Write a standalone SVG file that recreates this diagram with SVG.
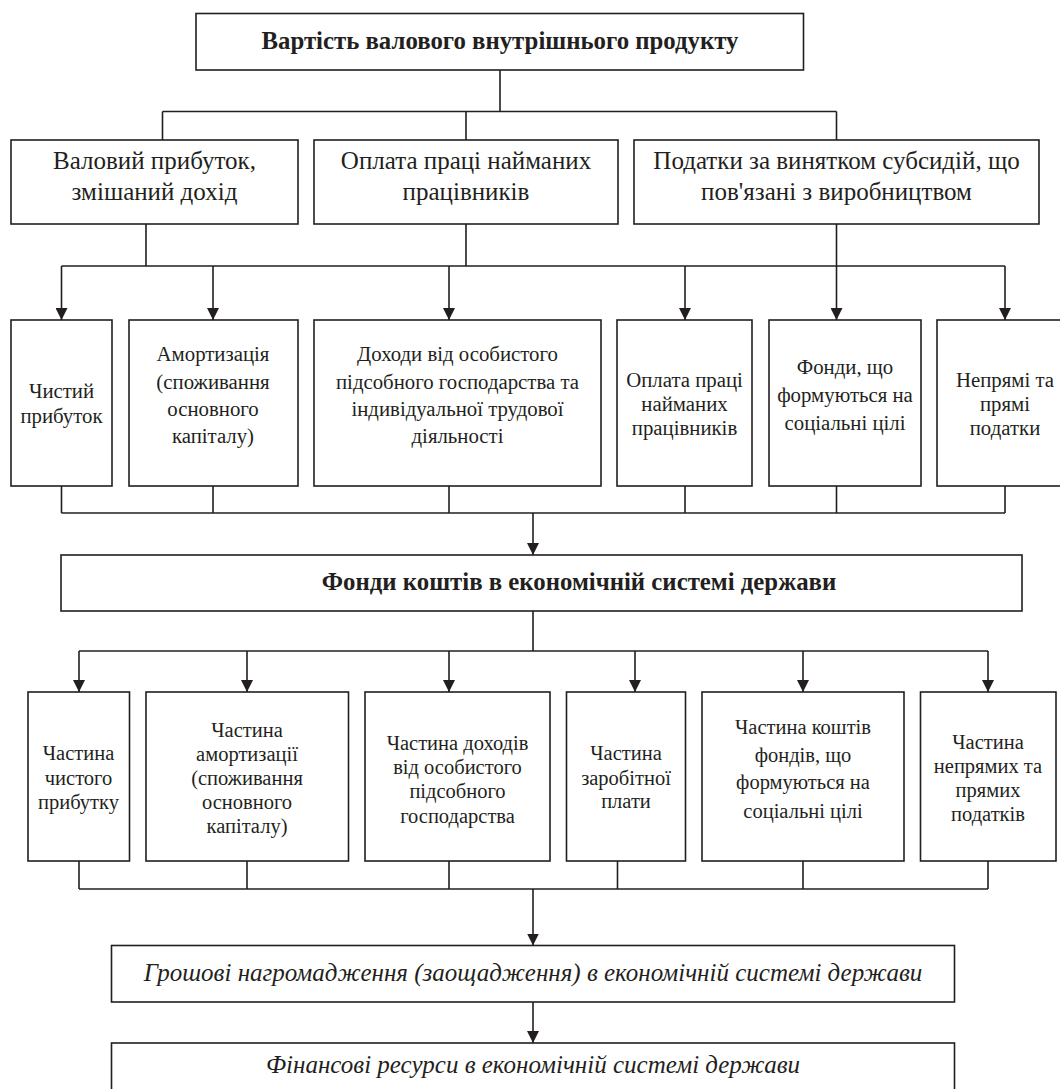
<svg xmlns="http://www.w3.org/2000/svg" width="1060" height="1089" viewBox="0 0 1060 1089">
<style>
rect{fill:#fff;stroke:#231f20;stroke-width:1.6}
text{font-family:"Liberation Serif","Times New Roman",serif;fill:#231f20;text-anchor:middle}
.t{font-size:24.8px;font-weight:bold}
.m{font-size:25px}
.s{font-size:20.8px}
.r{font-size:20.5px}
.i{font-size:25px;font-style:italic}
.c{fill:none;stroke:#231f20;stroke-width:1.6}
</style>
<defs>
<marker id="ar" viewBox="0 0 12 12" refX="12" refY="6" markerWidth="12" markerHeight="12" markerUnits="userSpaceOnUse" orient="auto">
<path d="M0,0 L12,6 L0,12 Z" fill="#231f20"/>
</marker>
</defs>
<rect x="0" y="0" width="1060" height="1089" style="stroke:none"/>
<g id="connectors">
<path class="c" d="M500,70 V111.5 M162.5,111.5 H836.5 M162.5,111.5 V140 M466,111.5 V140 M836.5,111.5 V140"/>
<path class="c" d="M146,224 V266 M466,224 V266 M836.5,224 V266 M61.5,266 H1005"/>
<path class="c" marker-end="url(#ar)" d="M61.5,266 V320"/>
<path class="c" marker-end="url(#ar)" d="M213,266 V320"/>
<path class="c" marker-end="url(#ar)" d="M449,266 V320"/>
<path class="c" marker-end="url(#ar)" d="M685,266 V320"/>
<path class="c" marker-end="url(#ar)" d="M836.5,266 V320"/>
<path class="c" marker-end="url(#ar)" d="M1005,266 V320"/>
<path class="c" d="M61.5,486 V513 M213,486 V513 M449,486 V513 M685,486 V513 M836.5,486 V513 M1005,486 V513 M61.5,513 H1005"/>
<path class="c" marker-end="url(#ar)" d="M533,513 V555"/>
<path class="c" d="M533,611 V651 M79,651 H988"/>
<path class="c" marker-end="url(#ar)" d="M79,651 V692"/>
<path class="c" marker-end="url(#ar)" d="M247,651 V692"/>
<path class="c" marker-end="url(#ar)" d="M449,651 V692"/>
<path class="c" marker-end="url(#ar)" d="M635,651 V692"/>
<path class="c" marker-end="url(#ar)" d="M803,651 V692"/>
<path class="c" marker-end="url(#ar)" d="M988,651 V692"/>
<path class="c" d="M79,861 V889 M247,861 V889 M449,861 V889 M617.5,861 V889 M803,861 V889 M988,861 V889 M79,889 H988"/>
<path class="c" marker-end="url(#ar)" d="M533,889 V945.5"/>
<path class="c" marker-end="url(#ar)" d="M533,1002 V1043"/>
</g>
<g id="n-gdp"><rect x="196" y="13.5" width="607.5" height="56.5"/><text class="t" x="500" y="49">Вартість валового внутрішнього продукту</text></g>
<g id="n-gross"><rect x="11" y="140" width="287" height="84"/><text class="m" x="154.5" y="169">Валовий прибуток,</text><text class="m" x="154.5" y="199.5">змішаний дохід</text></g>
<g id="n-pay"><rect x="314" y="140" width="304" height="84"/><text class="m" x="466" y="169">Оплата праці найманих</text><text class="m" x="466" y="199.5">працівників</text></g>
<g id="n-tax"><rect x="634" y="140" width="405" height="84"/><text class="m" x="836.5" y="169">Податки за винятком субсидій, що</text><text class="m" x="836.5" y="199.5">пов'язані з виробництвом</text></g>
<g id="n-net"><rect x="11" y="320" width="101" height="166"/><text class="s" x="61.5" y="398">Чистий</text><text class="s" x="61.5" y="423">прибуток</text></g>
<g id="n-amort"><rect x="129" y="320" width="169" height="166"/><text class="s" x="213" y="361">Амортизація</text><text class="s" x="213" y="388.5">(споживання</text><text class="s" x="213" y="415.5">основного</text><text class="s" x="213" y="443">капіталу)</text></g>
<g id="n-income"><rect x="314" y="320" width="287" height="166"/><text class="s" x="457.5" y="361">Доходи від особистого</text><text class="s" x="457.5" y="388.5">підсобного господарства та</text><text class="s" x="457.5" y="415.5">індивідуальної трудової</text><text class="s" x="457.5" y="443">діяльності</text></g>
<g id="n-wages"><rect x="617" y="320" width="135" height="166"/><text class="s" x="684.5" y="387">Оплата праці</text><text class="s" x="684.5" y="411">найманих</text><text class="s" x="684.5" y="435">працівників</text></g>
<g id="n-social"><rect x="769" y="320" width="152" height="166"/><text class="s" x="845" y="374">Фонди, що</text><text class="s" x="845" y="401.5">формуються на</text><text class="s" x="845" y="429.5">соціальні цілі</text></g>
<g id="n-taxes"><rect x="937" y="320" width="140" height="166"/><text class="s" x="1005" y="387">Непрямі та</text><text class="s" x="1005" y="411">прямі</text><text class="s" x="1005" y="435">податки</text></g>
<g id="n-funds"><rect x="61" y="555" width="961" height="56"/><text class="t" x="579" y="590">Фонди коштів в економічній системі держави</text></g>
<g id="n-p-net"><rect x="28" y="692" width="101.5" height="169"/><text class="r" x="78.5" y="760">Частина</text><text class="r" x="78.5" y="784.5">чистого</text><text class="r" x="78.5" y="808.5">прибутку</text></g>
<g id="n-p-amort"><rect x="146" y="692" width="202.5" height="169"/><text class="r" x="247" y="736.5">Частина</text><text class="r" x="247" y="760.5">амортизації</text><text class="r" x="247" y="784.5">(споживання</text><text class="r" x="247" y="808.5">основного</text><text class="r" x="247" y="833">капіталу)</text></g>
<g id="n-p-income"><rect x="365" y="692" width="185" height="169"/><text class="r" x="457.5" y="750">Частина доходів</text><text class="r" x="457.5" y="774">від особистого</text><text class="r" x="457.5" y="798">підсобного</text><text class="r" x="457.5" y="822.5">господарства</text></g>
<g id="n-p-wages"><rect x="566.5" y="692" width="119" height="169"/><text class="r" x="626" y="760">Частина</text><text class="r" x="626" y="784.5">заробітної</text><text class="r" x="626" y="808">плати</text></g>
<g id="n-p-social"><rect x="702" y="692" width="202" height="169"/><text class="r" x="803" y="734">Частина коштів</text><text class="r" x="803" y="761.5">фондів, що</text><text class="r" x="803" y="789">формуються на</text><text class="r" x="803" y="817.5">соціальні цілі</text></g>
<g id="n-p-taxes"><rect x="920.5" y="692" width="135.5" height="169"/><text class="r" x="988" y="748.5">Частина</text><text class="r" x="988" y="772.5">непрямих та</text><text class="r" x="988" y="797">прямих</text><text class="r" x="988" y="821">податків</text></g>
<g id="n-savings"><rect x="111.5" y="945.5" width="843" height="56.5"/><text class="i" x="533" y="981">Грошові нагромадження (заощадження) в економічній системі держави</text></g>
<g id="n-finres"><rect x="111.5" y="1043" width="843" height="60"/><text class="i" x="533" y="1073">Фінансові ресурси в економічній системі держави</text></g>
</svg>
